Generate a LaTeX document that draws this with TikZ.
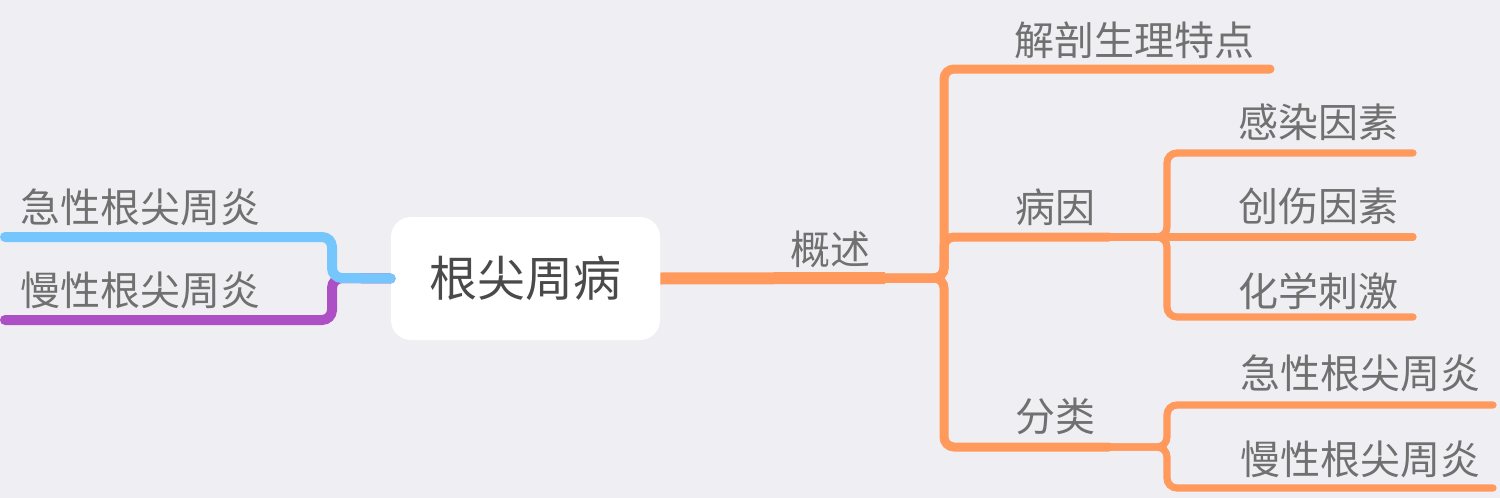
\documentclass[tikz,border=0pt]{standalone}
\usepackage{fontspec}
\newfontfamily\cjk{Noto Sans CJK SC}
\definecolor{bg}{RGB}{239,238,243}
\definecolor{branchorange}{RGB}{255,153,92}
\definecolor{branchblue}{RGB}{116,198,253}
\definecolor{branchpurple}{RGB}{173,79,197}
\definecolor{textgrey}{RGB}{112,112,112}
\definecolor{rootgrey}{RGB}{74,74,74}
\tikzset{
  topic/.style={font=\cjk\fontsize{20pt}{24pt}\selectfont, text=textgrey, inner sep=0pt},
  roottopic/.style={font=\cjk\fontsize{24pt}{28pt}\selectfont, text=rootgrey, fill=white,
    rounded corners=10pt, minimum width=134.5pt, minimum height=61.5pt},
  branch/.style={line cap=round, rounded corners=5pt},
}

\begin{document}
\begin{tikzpicture}[x=0.5pt, y=-0.5pt]
  \fill[bg] (0,0) rectangle (1500,498);
  \useasboundingbox (0,0) rectangle (1500,498);

  \node[roottopic] (root) at (525.5,278.5) {根尖周病};

  % left side
  \node[topic] (acuteL) at (140,207) {急性根尖周炎};
  \node[topic] (chronicL) at (140,290) {慢性根尖周炎};
  \coordinate (hubL) at (332,278);
  \coordinate (acuteLend) at (5,237);
  \coordinate (chronicLend) at (5,320);
  \draw[branch, branchpurple, line width=5pt] (root.west) -- (hubL) |- (chronicLend);
  \draw[branch, branchblue, line width=5pt] (root.west) -- (hubL) |- (acuteLend);

  % right side
  \node[topic] (overview) at (830,249) {概述};
  \node[topic] (anatomy) at (1134.5,40) {解剖生理特点};
  \node[topic] (cause) at (1055,207) {病因};
  \node[topic] (category) at (1055,416) {分类};
  \node[topic] (infect) at (1318,122) {感染因素};
  \node[topic] (trauma) at (1318,206) {创伤因素};
  \node[topic] (chemical) at (1318,291) {化学刺激};
  \node[topic] (acuteR) at (1360,373) {急性根尖周炎};
  \node[topic] (chronicR) at (1360,459) {慢性根尖周炎};

  \coordinate (hub0) at (885,278);
  \coordinate (v0) at (944,278);
  \coordinate (anatomyend) at (1270,69);
  \coordinate (causeend) at (1109,237);
  \coordinate (categoryend) at (1109,447);
  \coordinate (v1) at (1167,237);
  \coordinate (v2) at (1167,447);
  \coordinate (infectend) at (1413,153);
  \coordinate (traumaend) at (1413,237);
  \coordinate (chemicalend) at (1413,317);
  \coordinate (acuteRend) at (1493,405);
  \coordinate (chronicRend) at (1493,488);

  \draw[branch, branchorange, line width=6pt, line cap=butt] (root.east) -- (hub0);
  \begin{scope}[branch, branchorange, line width=4.5pt]
    \draw (hub0) -- (v0) |- (anatomyend);
    \draw (hub0) -- (v0) |- (causeend);
    \draw (hub0) -- (v0) |- (categoryend);
  \end{scope}
  \begin{scope}[branch, branchorange, line width=3.6pt]
    \draw (causeend) -- (v1) |- (infectend);
    \draw (causeend) -- (traumaend);
    \draw (causeend) -- (v1) |- (chemicalend);
    \draw (categoryend) -- (v2) |- (acuteRend);
    \draw (categoryend) -- (v2) |- (chronicRend);
  \end{scope}
\end{tikzpicture}
\end{document}
